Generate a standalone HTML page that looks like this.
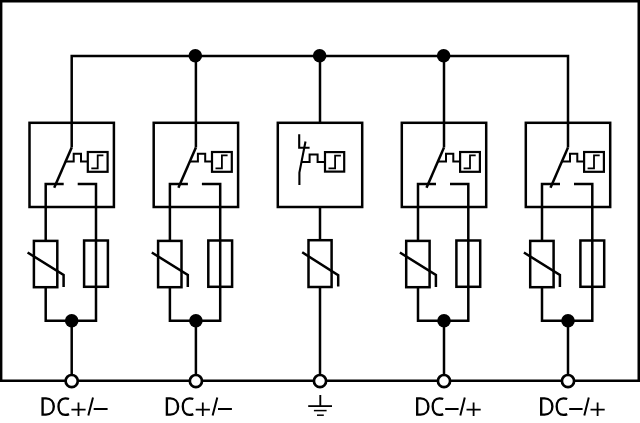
<!DOCTYPE html>
<html><head><meta charset="utf-8"><style>
html,body{margin:0;padding:0;background:#fff;width:640px;height:423px;overflow:hidden}
svg{display:block}
text{font-family:"Liberation Sans",sans-serif;font-size:25.5px;fill:#000}
</style></head><body>
<svg width="640" height="423" viewBox="0 0 640 423">
<g fill="none" stroke="#000" stroke-linecap="butt" stroke-linejoin="miter">
<path d="M1.1,380.8 V1.1 H638.8 V380.8" stroke-width="2.6"/>
<polyline points="71.7,147.5 71.7,55.9 568,55.9 568,147.5" stroke-width="2.5"/>
<circle cx="195.3" cy="55.7" r="6.8" fill="#000" stroke="none"/>
<circle cx="319.65" cy="55.7" r="6.8" fill="#000" stroke="none"/>
<circle cx="443.65" cy="55.7" r="6.8" fill="#000" stroke="none"/>
<rect x="29.5" y="122.8" width="84.4" height="84.2" stroke-width="2.5"/>
<polyline points="71.7,147.5 54.2,187.7" stroke-width="2.5"/>
<polyline points="65.53,161.6 73.7,161.6 73.7,153.8 81,153.8 81,161.6 87.8,161.6" stroke-width="2"/>
<rect x="87.8" y="152" width="19.8" height="19.8" stroke-width="2.2"/>
<polyline points="91.3,168.4 97.7,168.4 97.7,155.4 103.4,155.4" stroke-width="1.8"/>
<polyline points="63.7,183.9 45.7,183.9 45.7,240.9" stroke-width="2.5"/>
<polyline points="77.7,183.9 96,183.9 96,320.7 45.7,320.7 45.7,287.2" stroke-width="2.5"/>
<rect x="33.9" y="240.9" width="23.4" height="46.3" stroke-width="2.5"/>
<polyline points="27.6,252.5 63.6,275 63.6,287" stroke-width="2.5"/>
<rect x="84.1" y="240.5" width="23.8" height="46.3" stroke-width="2.5"/>
<circle cx="71.7" cy="320.8" r="6.8" fill="#000" stroke="none"/>
<polyline points="71.7,320.8 71.7,380.8" stroke-width="2.5"/>
<rect x="153.7" y="122.8" width="84.4" height="84.2" stroke-width="2.5"/>
<polyline points="195.9,55.9 195.9,147.5" stroke-width="2.5"/>
<polyline points="195.9,147.5 178.4,187.7" stroke-width="2.5"/>
<polyline points="189.73,161.6 197.9,161.6 197.9,153.8 205.2,153.8 205.2,161.6 212,161.6" stroke-width="2"/>
<rect x="212" y="152" width="19.8" height="19.8" stroke-width="2.2"/>
<polyline points="215.5,168.4 221.9,168.4 221.9,155.4 227.6,155.4" stroke-width="1.8"/>
<polyline points="187.9,183.9 169.9,183.9 169.9,240.9" stroke-width="2.5"/>
<polyline points="201.9,183.9 220.2,183.9 220.2,320.7 169.9,320.7 169.9,287.2" stroke-width="2.5"/>
<rect x="158.1" y="240.9" width="23.4" height="46.3" stroke-width="2.5"/>
<polyline points="151.8,252.5 187.8,275 187.8,287" stroke-width="2.5"/>
<rect x="208.3" y="240.5" width="23.8" height="46.3" stroke-width="2.5"/>
<circle cx="195.9" cy="320.8" r="6.8" fill="#000" stroke="none"/>
<polyline points="195.9,320.8 195.9,380.8" stroke-width="2.5"/>
<rect x="277.8" y="122.8" width="84.4" height="84.2" stroke-width="2.5"/>
<polyline points="320,55.9 320,122.8" stroke-width="2.5"/>
<polyline points="299.2,134.3 299.2,147.7 309.6,147.7" stroke-width="2.1"/>
<polyline points="305.5,141.5 299.4,172.5 299.4,185" stroke-width="2.1"/>
<polyline points="301.4,162.1 309.6,162.1 309.6,154.5 317.6,154.5 317.6,162.1 325,162.1" stroke-width="2"/>
<rect x="325" y="152.1" width="19.2" height="19.5" stroke-width="2.2"/>
<polyline points="328.5,168.4 335.1,168.4 335.1,155.6 340.9,155.6" stroke-width="1.8"/>
<polyline points="320,207 320,240.2" stroke-width="2.5"/>
<rect x="308.5" y="240.2" width="23.1" height="46.8" stroke-width="2.5"/>
<polyline points="302.2,252.3 338.2,275.3 338.2,286.5" stroke-width="2.5"/>
<polyline points="320,287 320,380.8" stroke-width="2.5"/>
<rect x="401.8" y="122.8" width="84.4" height="84.2" stroke-width="2.5"/>
<polyline points="444,55.9 444,147.5" stroke-width="2.5"/>
<polyline points="444,147.5 426.5,187.7" stroke-width="2.5"/>
<polyline points="437.83,161.6 446,161.6 446,153.8 453.3,153.8 453.3,161.6 460.1,161.6" stroke-width="2"/>
<rect x="460.1" y="152" width="19.8" height="19.8" stroke-width="2.2"/>
<polyline points="463.6,168.4 470,168.4 470,155.4 475.7,155.4" stroke-width="1.8"/>
<polyline points="436,183.9 418,183.9 418,240.9" stroke-width="2.5"/>
<polyline points="450,183.9 468.3,183.9 468.3,320.7 418,320.7 418,287.2" stroke-width="2.5"/>
<rect x="406.2" y="240.9" width="23.4" height="46.3" stroke-width="2.5"/>
<polyline points="399.9,252.5 435.9,275 435.9,287" stroke-width="2.5"/>
<rect x="456.4" y="240.5" width="23.8" height="46.3" stroke-width="2.5"/>
<circle cx="444" cy="320.8" r="6.8" fill="#000" stroke="none"/>
<polyline points="444,320.8 444,380.8" stroke-width="2.5"/>
<rect x="525.8" y="122.8" width="84.4" height="84.2" stroke-width="2.5"/>
<polyline points="568,147.5 550.5,187.7" stroke-width="2.5"/>
<polyline points="561.83,161.6 570,161.6 570,153.8 577.3,153.8 577.3,161.6 584.1,161.6" stroke-width="2"/>
<rect x="584.1" y="152" width="19.8" height="19.8" stroke-width="2.2"/>
<polyline points="587.6,168.4 594,168.4 594,155.4 599.7,155.4" stroke-width="1.8"/>
<polyline points="560,183.9 542,183.9 542,240.9" stroke-width="2.5"/>
<polyline points="574,183.9 592.3,183.9 592.3,320.7 542,320.7 542,287.2" stroke-width="2.5"/>
<rect x="530.2" y="240.9" width="23.4" height="46.3" stroke-width="2.5"/>
<polyline points="523.9,252.5 559.9,275 559.9,287" stroke-width="2.5"/>
<rect x="580.4" y="240.5" width="23.8" height="46.3" stroke-width="2.5"/>
<circle cx="568" cy="320.8" r="6.8" fill="#000" stroke="none"/>
<polyline points="568,320.8 568,380.8" stroke-width="2.5"/>
<line x1="0" y1="380.8" x2="640" y2="380.8" stroke-width="2.4"/>
<circle cx="71.7" cy="381.1" r="6.1" fill="#fff" stroke-width="2.7"/>
<circle cx="195.9" cy="381.1" r="6.1" fill="#fff" stroke-width="2.7"/>
<circle cx="320" cy="381.1" r="6.1" fill="#fff" stroke-width="2.7"/>
<circle cx="444" cy="381.1" r="6.1" fill="#fff" stroke-width="2.7"/>
<circle cx="568" cy="381.1" r="6.1" fill="#fff" stroke-width="2.7"/>
<line x1="320.3" y1="395" x2="320.3" y2="406" stroke-width="1.9"/>
<line x1="308.2" y1="406.1" x2="332" y2="406.1" stroke-width="1.8"/>
<line x1="313.9" y1="410.6" x2="326.6" y2="410.6" stroke-width="1.5"/>
<line x1="317" y1="415.2" x2="323.8" y2="415.2" stroke-width="1.5"/>
<path d="M42.6,398.4 V414.6 H46 C50.8,414.6 53.8,411.2 53.8,406.5 C53.8,401.8 50.8,398.4 46,398.4 Z M69,399 C67.9,398.5 66.6,398.3 65.2,398.3 C61.2,398.3 58.5,401.6 58.5,406.6 C58.5,411.8 61.3,414.9 65.2,414.9 C66.7,414.9 68,414.6 69,414.1" stroke-width="2.35"/>
<path d="M78.5,402.5 V415.9 M71.4,409.7 H85.6" stroke-width="1.8"/>
<path d="M88.3,415.4 L93,397.6 M93.7,408.9 H107.6" stroke-width="2"/>
<path d="M166.9,398.4 V414.6 H170.3 C175.1,414.6 178.1,411.2 178.1,406.5 C178.1,401.8 175.1,398.4 170.3,398.4 Z M193.3,399 C192.2,398.5 190.9,398.3 189.5,398.3 C185.5,398.3 182.8,401.6 182.8,406.6 C182.8,411.8 185.6,414.9 189.5,414.9 C191,414.9 192.3,414.6 193.3,414.1" stroke-width="2.35"/>
<path d="M202.8,402.5 V415.9 M195.7,409.7 H209.9" stroke-width="1.8"/>
<path d="M212.6,415.4 L217.3,397.6 M218,408.9 H231.9" stroke-width="2"/>
<path d="M417.2,398.4 V414.6 H420.6 C425.4,414.6 428.4,411.2 428.4,406.5 C428.4,401.8 425.4,398.4 420.6,398.4 Z M443.2,399 C442.1,398.5 440.8,398.3 439.4,398.3 C435.4,398.3 432.7,401.6 432.7,406.6 C432.7,411.8 435.5,414.9 439.4,414.9 C440.9,414.9 442.2,414.6 443.2,414.1" stroke-width="2.35"/>
<path d="M473.6,402.5 V415.9 M466.5,409.7 H480.7" stroke-width="1.8"/>
<path d="M460.3,415.4 L464.8,397.6 M445.2,408.9 H458.6" stroke-width="2"/>
<path d="M541.2,398.4 V414.6 H544.6 C549.4,414.6 552.4,411.2 552.4,406.5 C552.4,401.8 549.4,398.4 544.6,398.4 Z M567.2,399 C566.1,398.5 564.8,398.3 563.4,398.3 C559.4,398.3 556.7,401.6 556.7,406.6 C556.7,411.8 559.5,414.9 563.4,414.9 C564.9,414.9 566.2,414.6 567.2,414.1" stroke-width="2.35"/>
<path d="M597.6,402.5 V415.9 M590.5,409.7 H604.7" stroke-width="1.8"/>
<path d="M584.3,415.4 L588.8,397.6 M569.2,408.9 H582.6" stroke-width="2"/>
</g>
</svg>
</body></html>
